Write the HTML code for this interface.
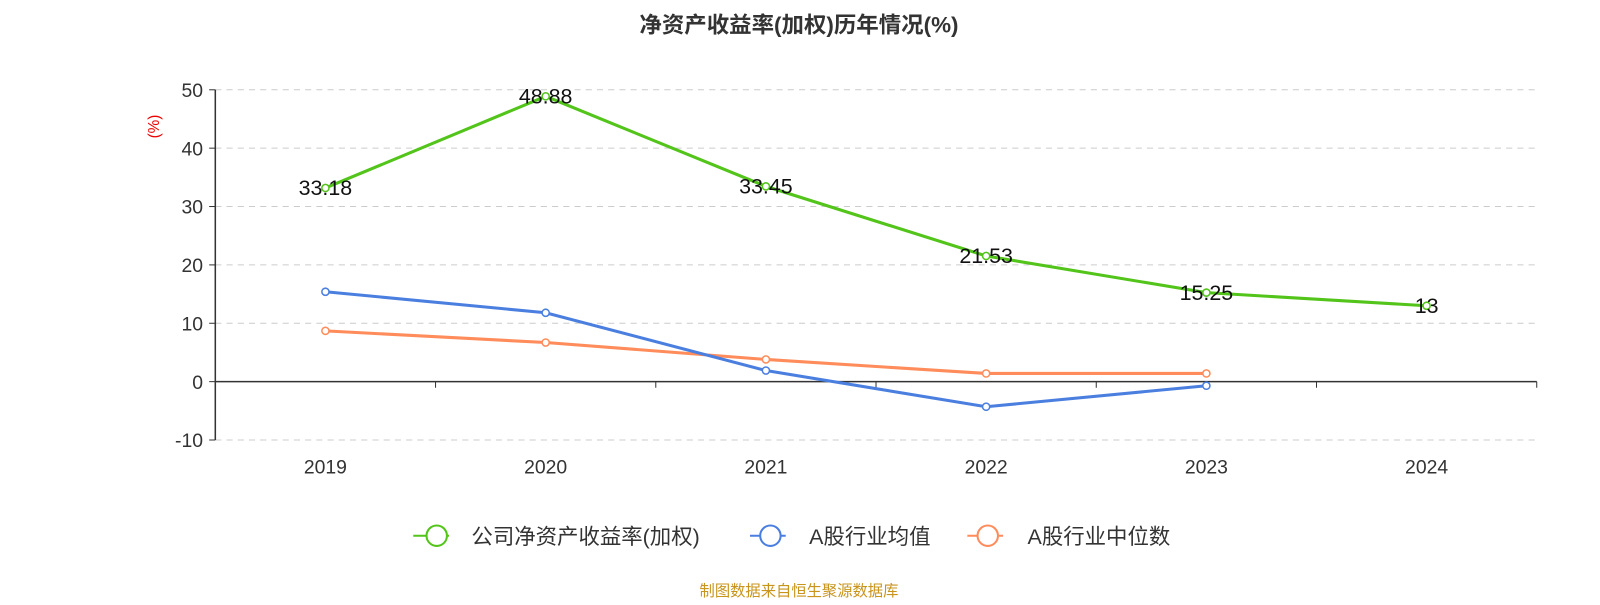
<!DOCTYPE html>
<html><head><meta charset="utf-8"><style>
body{margin:0;background:#fff;width:1600px;height:600px;overflow:hidden;font-family:"Liberation Sans","Noto Sans CJK SC",sans-serif;}
</style></head><body>
<svg id="chart" width="1600" height="600" viewBox="0 0 1568 588" preserveAspectRatio="none" xmlns="http://www.w3.org/2000/svg" font-family="Liberation Sans, Noto Sans CJK SC, sans-serif">
<text x="783" y="32" text-anchor="middle" font-size="22" font-weight="bold" fill="#333">净资产收益率(加权)历年情况(%)</text>
<text transform="translate(156,124) rotate(-90)" text-anchor="middle" font-size="15" fill="#e00">(%)</text>
<g id="grid"></g><g id="axes"></g><g id="series"></g>
<g>
 <g><line x1="405" y1="525" x2="440" y2="525" stroke="#52c41a" stroke-width="2"/><circle cx="428" cy="525" r="10" fill="#fff" stroke="#52c41a" stroke-width="2"/><text x="462" y="533" font-size="21" fill="#333">公司净资产收益率(加权)</text></g>
 <g><line x1="735" y1="525" x2="770" y2="525" stroke="#4a7fe0" stroke-width="2"/><circle cx="755" cy="525" r="10" fill="#fff" stroke="#4a7fe0" stroke-width="2"/><text x="793" y="533" font-size="21" fill="#333">A股行业均值</text></g>
 <g><line x1="948" y1="525" x2="983" y2="525" stroke="#ff8c5a" stroke-width="2"/><circle cx="968" cy="525" r="10" fill="#fff" stroke="#ff8c5a" stroke-width="2"/><text x="1007" y="533" font-size="21" fill="#333">A股行业中位数</text></g>
</g>
<text x="783" y="584" text-anchor="middle" font-size="15" fill="#c8941c">制图数据来自恒生聚源数据库</text>
</svg>
<script>
const categories=["2019","2020","2021","2022","2023","2024"];
const companyValues=[33.18,48.88,33.45,21.53,15.25,13];
const companyLabels=["33.18","48.88","33.45","21.53","15.25","13"];
const averageValues=[15.4,11.8,1.9,-4.3,-0.7];
const medianValues=[8.7,6.7,3.8,1.4,1.4];
const yTicks=[-10,0,10,20,30,40,50];
const NS="http://www.w3.org/2000/svg";
const x0=211,x1=1506,band=(x1-x0)/categories.length;
const xs=i=>x0+band*(i+0.5);
const ys=v=>374-v*5.72;
function mk(tag,attrs,parent){const e=document.createElementNS(NS,tag);for(const k in attrs)e.setAttribute(k,attrs[k]);parent.appendChild(e);return e;}
const grid=document.getElementById('grid'),axes=document.getElementById('axes'),ser=document.getElementById('series');
yTicks.forEach(t=>{
 if(t!==0){const g=mk('line',{x1:x0,x2:x1,y1:ys(t),y2:ys(t),stroke:'#ccc','stroke-dasharray':'6,5'},grid);
 
 }
 const l=mk('text',{x:x0-12,y:ys(t)+7,'text-anchor':'end','font-size':19,fill:'#333'},axes);l.textContent=t;
 
 
 mk('line',{x1:x0-6,x2:x0,y1:ys(t),y2:ys(t),stroke:'#333'},axes);
});
const ya=mk('line',{x1:x0,x2:x0,y1:ys(50),y2:ys(-10),stroke:'#333','stroke-width':1.5},axes);


const xa=mk('line',{x1:x0,x2:x1,y1:ys(0),y2:ys(0),stroke:'#333','stroke-width':1.5},axes);


categories.forEach((c,i)=>{
 mk('line',{x1:x0+band*(i+1),x2:x0+band*(i+1),y1:ys(0),y2:ys(0)+6,stroke:'#333'},axes);
 const t=mk('text',{x:xs(i),y:464,'text-anchor':'middle','font-size':19,fill:'#333'},axes);t.textContent=c;
 
 
});
function series(vals,color,name){
 const p=mk('polyline',{points:vals.map((v,i)=>xs(i)+','+ys(v)).join(' '),fill:'none',stroke:color,'stroke-width':3},ser);
 
 
 vals.forEach((v,i)=>{const c=mk('circle',{cx:xs(i),cy:ys(v),r:3.5,fill:'#fff',stroke:color,'stroke-width':1.5},ser);
 
 });
}
series(medianValues,'#ff8c5a','median');
series(averageValues,'#4a7fe0','average');
series(companyValues,'#52c41a','company');
companyValues.forEach((v,i)=>{const t=mk('text',{x:xs(i),y:ys(v)+7,'text-anchor':'middle','font-size':21,fill:'#111'},ser);t.textContent=companyLabels[i];
 
 });
</script>
</body></html>
